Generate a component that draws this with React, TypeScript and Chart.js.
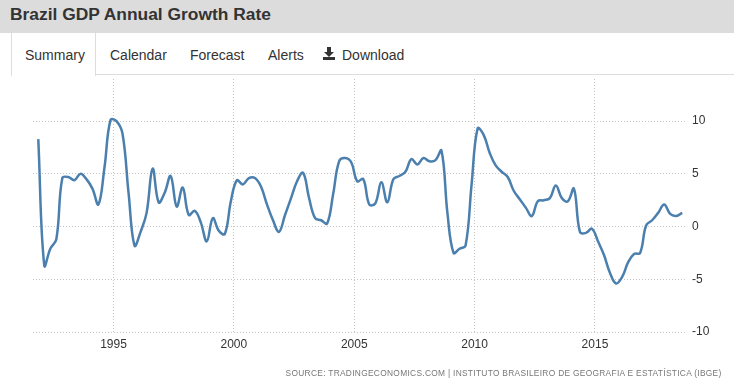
import React, { useEffect, useRef } from 'react';
import { Chart, registerables } from 'chart.js';

Chart.register(...registerables);

// ---- data ----
const titleText = 'Brazil GDP Annual Growth Rate';
const tabLabels = ['Summary', 'Calendar', 'Forecast', 'Alerts', 'Download'];
const sourceText = 'SOURCE: TRADINGECONOMICS.COM | INSTITUTO BRASILEIRO DE GEOGRAFIA E ESTATÍSTICA (IBGE)';

const firstYear = 1991;
const firstQuarter = 4;

const gdpGrowth: number[] = [
  8.3, -3.7, -2.1, -1.2, 4.6, 4.7, 4.4, 5.0, 4.5, 3.6,
  2.1, 5.6, 10.1, 10.0, 8.8, 3.2, -1.8, -0.5, 1.3, 5.5,
  2.3, 3.2, 4.8, 1.9, 3.7, 1.1, 1.5, 0.4, -1.4, 0.8,
  -0.4, -0.7, 2.4, 4.4, 4.0, 4.6, 4.6, 3.8, 2.1, 0.6,
  -0.5, 1.1, 2.7, 4.3, 5.1, 2.7, 0.8, 0.6, 0.3, 3.1,
  6.2, 6.5, 6.1, 4.3, 4.5, 2.1, 2.2, 4.2, 2.3, 4.5,
  4.8, 5.2, 6.4, 5.9, 6.5, 6.2, 6.3, 7.2, 1.2, -2.5,
  -2.1, -1.8, 4.0, 9.3, 8.7, 7.0, 5.8, 5.2, 4.7, 3.4,
  2.6, 1.8, 1.0, 2.4, 2.5, 2.7, 3.9, 2.7, 2.4, 3.6,
  -0.5, -0.6, -0.2, -1.4, -2.7, -4.4, -5.4, -4.8, -3.4, -2.6,
  -2.5, 0.1, 0.6, 1.3, 2.1, 1.2, 1.0, 1.3,
];

const quarterLabels: string[] = gdpGrowth.map((_, i) => {
  const n = firstYear * 4 + (firstQuarter - 1) + i;
  return `${Math.floor(n / 4)} Q${(n % 4) + 1}`;
});

const yearTicks = [1995, 2000, 2005, 2010, 2015];
const valueTicks = [10, 5, 0, -5, -10];

function quarterTime(label: string): number {
  const [y, q] = label.split(' Q');
  return Number(y) + (Number(q) - 1) / 4 + 0.125;
}

const FONT = '"Liberation Sans", Arial, sans-serif';

function DownloadIcon() {
  return (
    <svg width="12" height="13" viewBox="0 0 12 13" style={{ position: 'absolute', left: 323, top: 47 }}>
      <rect x="4" y="0" width="4" height="5" fill="#333" />
      <polygon points="1,5 11,5 6,10" fill="#333" />
      <rect x="0" y="10" width="12" height="3" fill="#333" />
    </svg>
  );
}

export default function App() {
  const canvasRef = useRef<HTMLCanvasElement | null>(null);
  const srcRef = useRef<HTMLSpanElement | null>(null);

  useEffect(() => {
    if (srcRef.current) {
      const w = srcRef.current.getBoundingClientRect().width;
      if (w > 0) srcRef.current.style.transform = `scaleX(${436 / w})`;
    }
    const canvas = canvasRef.current;
    if (!canvas) return;
    const points = quarterLabels.map((lab, i) => ({ x: quarterTime(lab), y: gdpGrowth[i] }));
    const gridColor = '#c4c4c4';
    const chart = new Chart(canvas, {
      type: 'line',
      data: {
        datasets: [
          {
            data: points,
            borderColor: '#4a7fae',
            borderWidth: 2.5,
            pointRadius: 0,
            tension: 0.4,
            fill: false,
          },
        ],
      },
      options: {
        animation: false,
        responsive: false,
        maintainAspectRatio: false,
        layout: { padding: { left: 33, top: 2, right: 0, bottom: 0 } },
        plugins: { legend: { display: false }, tooltip: { enabled: false } },
        scales: {
          x: {
            type: 'linear',
            min: 1991.656,
            max: 2018.74,
            afterBuildTicks: (s: any) => {
              s.ticks = yearTicks.map((v) => ({ value: v }));
            },
            afterFit: (s: any) => {
              s.height = 55;
              s.paddingLeft = 0;
              s.paddingRight = 0;
            },
            ticks: {
              callback: (v: any) => String(v),
              color: '#333',
              font: { family: FONT, size: 12 },
              padding: 5,
              maxRotation: 0,
              autoSkip: false,
            },
            grid: { color: gridColor, drawTicks: false, lineWidth: 1 },
            border: { display: false, dash: [1, 2] },
          },
          y: {
            position: 'right',
            min: -10,
            max: 14,
            afterBuildTicks: (s: any) => {
              s.ticks = valueTicks.map((v) => ({ value: v }));
            },
            afterFit: (s: any) => {
              s.width = 49;
              s.paddingTop = 0;
              s.paddingBottom = 0;
            },
            ticks: {
              callback: (v: any) => String(v),
              color: '#333',
              font: { family: FONT, size: 12 },
              padding: 7,
            },
            grid: { color: gridColor, drawTicks: false, lineWidth: 1 },
            border: { display: false, dash: [1, 2] },
          },
        },
      },
    });
    return () => chart.destroy();
  }, []);

  const tabLefts = [25, 110, 190, 268, 342];

  return (
    <div style={{ position: 'absolute', left: 0, top: 0, width: 734, height: 385, overflow: 'hidden', background: '#fff', fontFamily: FONT }}>
      <div style={{ position: 'absolute', left: 0, top: 0, width: 734, height: 33, background: '#dcdcdc' }} />
      <div style={{ position: 'absolute', left: 10, top: 4, fontSize: 17.4, fontWeight: 'bold', color: '#333', whiteSpace: 'nowrap' }}>
        {titleText}
      </div>
      <canvas ref={canvasRef} width={734} height={310} style={{ position: 'absolute', left: 0, top: 77, width: 734, height: 310 }} />
      <div style={{ position: 'absolute', left: 95, top: 74, width: 639, height: 1, background: '#ddd' }} />
      <div style={{ position: 'absolute', left: 11, top: 33, width: 83, height: 43, borderLeft: '1px solid #ddd', borderRight: '1px solid #ddd', background: '#fff' }} />
      {tabLabels.map((t, i) => (
        <div key={t} style={{ position: 'absolute', left: tabLefts[i], top: 47, fontSize: 14, color: '#333', whiteSpace: 'nowrap' }}>
          {t}
        </div>
      ))}
      <DownloadIcon />
      <div style={{ position: 'absolute', right: 12, top: 366, whiteSpace: 'nowrap', lineHeight: '10px' }}>
        <span ref={srcRef} style={{ display: 'inline-block', fontSize: 8.4, color: '#777', letterSpacing: 0.3, transformOrigin: 'right center' }}>
          {sourceText}
        </span>
      </div>
    </div>
  );
}
